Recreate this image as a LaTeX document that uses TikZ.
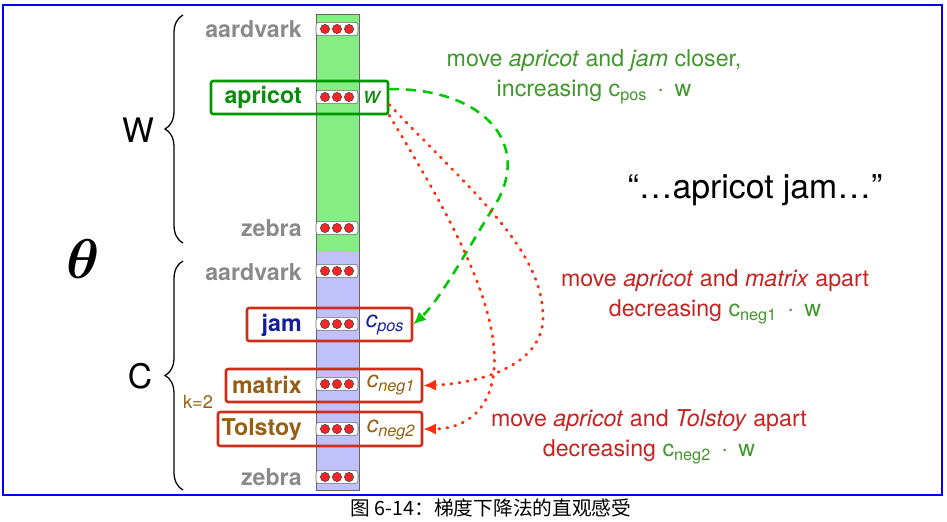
\documentclass[tikz,border=0pt]{standalone}
\usepackage{amsmath}
\usepackage{amssymb}
\usepackage{fontspec}
\setmainfont{TeX Gyre Heros}
\newfontfamily\cjk{Noto Sans CJK SC}
\usepackage{tikz}
\usetikzlibrary{arrows,arrows.meta,shapes,fit}
\usetikzlibrary{decorations.pathreplacing}
\definecolor{frameblue}{RGB}{0,0,255}
\definecolor{colgreen}{RGB}{132,238,132}
\definecolor{colpurple}{RGB}{192,192,250}
\definecolor{wordgray}{RGB}{138,138,138}
\definecolor{wordgreen}{RGB}{10,140,10}
\definecolor{wordblue}{RGB}{20,30,150}
\definecolor{wordbrown}{RGB}{150,95,20}
\definecolor{boxgreen}{RGB}{0,150,0}
\definecolor{boxred}{RGB}{205,45,25}
\definecolor{anngreen}{RGB}{65,150,45}
\definecolor{annred}{RGB}{200,35,35}
\definecolor{pullgreen}{RGB}{0,200,0}
\definecolor{pushred}{RGB}{255,45,10}
\definecolor{dotred}{RGB}{255,35,35}
\tikzstyle{word}=[anchor=east, inner sep=0pt
,font=\fontsize{16.5}{20}\selectfont\bfseries
]
\tikzstyle{context word} = [word, text=wordgray]
\tikzstyle{emb}=[draw=black!60, fill=white, rounded corners=2pt
,minimum width=1.05cm, minimum height=0.33cm
,inner sep=0pt
]
\tikzstyle{dot}=[circle, draw=black!75, fill=dotred, minimum size=0.23cm, inner sep=0pt]
\tikzstyle{wordbox}=[draw, line width=1.8pt, rounded corners=1.5pt, inner sep=0pt]
\tikzstyle{vec}=[font=\fontsize{16.5}{20}\selectfont\itshape, inner sep=0pt]
\tikzstyle{note}=[align=center, font=\fontsize{16.5}{21.3}\selectfont]
\tikzstyle{pull}=[draw=pullgreen, line width=1.8pt, dash pattern=on 7pt off 5pt
,-{Latex[length=9pt, width=8pt]}
]
\tikzstyle{push}=[draw=pushred, line width=2pt, dash pattern=on 0.8pt off 5pt, line cap=round
,-{Latex[length=9pt, width=8pt]}
]
\begin{document}
\begin{tikzpicture}[x=0.025cm, y=-0.025cm]
    \useasboundingbox (0,0) rectangle (947,521);
    \draw[frameblue, line width=1.5pt] (3,5) rectangle (942,495);
    
    % the embedding column
    \fill[colgreen] (316,14) rectangle (359,252);
    \fill[colpurple] (316,252) rectangle (359,490);
    \draw[black!60, line width=0.5pt] (316,14) rectangle (359,490);
    
    \foreach \y/\name in {29/aardvarkW, 97/apricotW, 228/zebraW, 271/aardvarkC, 324/jamC, 384/matrixC, 429/tolstoyC, 477/zebraC} {
        \node[emb] (e-\name) at (337,\y) {};
        \foreach \dx [count=\i] in {-12,0,12}
            \node[dot] (e-\name-\i) at (337+\dx,\y) {};
    }
    
    % words
    \foreach \y/\name/\txt in {29/aardvarkW/aardvark, 228/zebraW/zebra, 272/aardvarkC/aardvark, 477/zebraC/zebra}
        \node[context word] (w-\name) at (302,\y) {\txt};
    \node[word, text=wordgreen] (w-apricotW) at (302,97) {apricot};
    \node[word, text=wordblue] (w-jamC) at (302,325) {jam};
    \node[word, text=wordbrown] (w-matrixC) at (302,385) {matrix};
    \node[word, text=wordbrown] (w-tolstoyC) at (302,430) {Tolstoy};
    
    % boxes round the words in use
    \node[wordbox, draw=boxgreen, fit={(211,81) (388,114)}] (apricotbox) {};
    \node[wordbox, draw=boxred, fit={(247,308) (412,341)}] (jambox) {};
    \node[wordbox, draw=boxred, fit={(226,369) (422,402)}] (matrixbox) {};
    \node[wordbox, draw=boxred, fit={(218,412) (422,446)}] (tolstoybox) {};
    
    \node[vec, text=wordgreen] (v-w) at (372,97) {w};
    \node[vec, text=wordblue] (v-pos) at (385,325) {c\textsubscript{pos}};
    \node[vec, text=wordbrown] (v-neg1) at (391,385) {c\textsubscript{neg1}};
    \node[vec, text=wordbrown] (v-neg2) at (391,430) {c\textsubscript{neg2}};
    
    % braces
    \draw[decorate, decoration={brace, amplitude=12.8pt}, line width=0.9pt] (183,243) -- (183,15);
    \draw[decorate, decoration={brace, amplitude=12.8pt}, line width=0.9pt] (183,490) -- (183,261);
    \node[font=\fontsize{24}{26}\selectfont] (W) at (138,130) {W};
    \node[font=\fontsize{24}{26}\selectfont] (C) at (140,376) {C};
    \node[font=\fontsize{13}{15}\selectfont, text=wordbrown] (k) at (198,402) {k=2};
    \node[font=\fontsize{24.88}{26}\selectfont] (theta) at (83,259) {\scalebox{1.6}{$\boldsymbol{\theta}$}};
    
    % notes
    \node[font=\fontsize{24}{26}\selectfont] (quote) at (755,190) {“…apricot jam…”};
    \node[note, text=anngreen] (n-pos) at (594,77) {move \textit{apricot} and \textit{jam} closer,\\increasing c\textsubscript{pos} \,$\cdot$\, w};
    \node[note, text=annred] (n-neg1) at (715,297) {move \textit{apricot} and \textit{matrix} apart\\decreasing {\color{anngreen}c\textsubscript{neg1} \,$\cdot$\, w}};
    \node[note, text=annred] (n-neg2) at (649,437) {move \textit{apricot} and \textit{Tolstoy} apart\\decreasing {\color{anngreen}c\textsubscript{neg2} \,$\cdot$\, w}};
    
    % gradient moves
    \path[pull] ([yshift=6pt]apricotbox.east) .. controls (480,88) and (530,140) .. (498,200) .. controls (470,245) and (440,300) .. (jambox.east);
    \path[push] ([yshift=-5pt]apricotbox.east) .. controls (470,190) and (545,250) .. (543,320) .. controls (540,370) and (470,384) .. (matrixbox.east);
    \path[push] (apricotbox.south east) .. controls (440,200) and (500,300) .. (494,370) .. controls (490,415) and (460,429) .. (tolstoybox.east);
    
    \node[font=\cjk\fontsize{14}{16}\selectfont] (caption) at (491,508) {图\ 6-14：梯度下降法的直观感受};
\end{tikzpicture}
\end{document}
